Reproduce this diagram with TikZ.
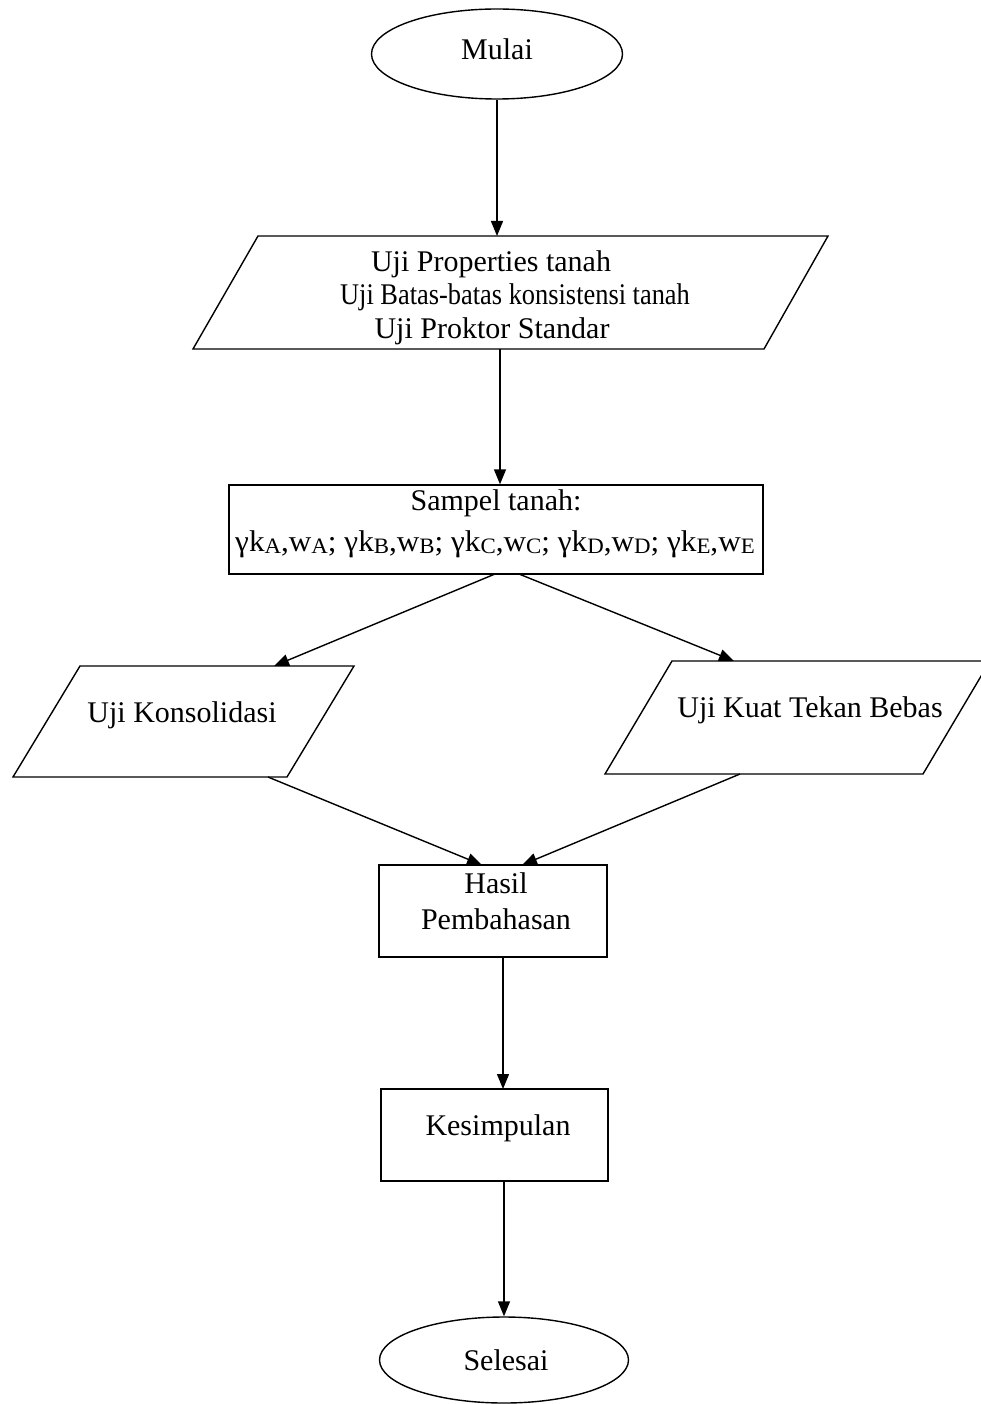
\documentclass[tikz,border=0pt]{standalone}
\usepackage{fontspec}
\setmainfont{Liberation Serif}
\usetikzlibrary{shapes.geometric,arrows.meta}
\newcommand{\sbx}[1]{\raisebox{-2.5pt}{\fontsize{22}{22}\selectfont #1}}
\begin{document}
\begin{tikzpicture}[x=1pt,y=-1pt,
  lw/.style={line width=1.4pt},
  arr/.style={line width=1.4pt,-{Triangle[length=15pt,width=12pt]}},
  term/.style={ellipse,draw,line width=1.4pt,inner sep=0pt},
  boxnode/.style={rectangle,draw,line width=1.4pt,inner sep=0pt},
  lbl/.style={anchor=base,inner sep=0pt,font=\fontsize{30}{34}\selectfont},
]
\fill[white] (0,0) rectangle (980,1404);
\useasboundingbox (0,0) rectangle (980,1404);

% terminals
\node[term,minimum width=251pt,minimum height=90pt] (mulai) at (497,54) {};
\node[lbl] (tmulai) at (497,60) {Mulai};
\node[term,minimum width=249pt,minimum height=86pt] (selesai) at (504,1360) {};
\node[lbl] (tselesai) at (506,1370) {Selesai};

% parallelogram 1
\coordinate (pa1) at (258,236);
\coordinate (pa2) at (828,236);
\coordinate (pa3) at (764,349);
\coordinate (pa4) at (193,349);
\draw[lw,line join=miter] (pa1) -- (pa2) -- (pa3) -- (pa4) -- cycle;
\node[lbl] (ta1) at (491,272) {Uji Properties tanah};
\node[lbl] (ta2) at (515,305) {\scalebox{0.88}[1]{Uji Batas-batas konsistensi tanah}};
\node[lbl] (ta3) at (492,338) {Uji Proktor Standar};
\coordinate (pain) at (497,236);
\coordinate (paout) at (500,349);

% sample box
\node[boxnode,minimum width=534pt,minimum height=89pt] (sampel) at (496,529.5) {};
\node[lbl] (tsa) at (496,510) {Sampel tanah:};
\node[lbl] (tsb) at (495,551) {\scalebox{1.04}[1]{γk\sbx{A},w\sbx{A}; γk\sbx{B},w\sbx{B}; γk\sbx{C},w\sbx{C}; γk\sbx{D},w\sbx{D}; γk\sbx{E},w\sbx{E}}};
\coordinate (sout1) at (495,574);
\coordinate (sout2) at (519,574);

% Uji Konsolidasi
\coordinate (kb1) at (80,666);
\coordinate (kb2) at (354,666);
\coordinate (kb3) at (287,777);
\coordinate (kb4) at (13,777);
\draw[lw,line join=miter] (kb1) -- (kb2) -- (kb3) -- (kb4) -- cycle;
\node[lbl] (tkon) at (182,722) {Uji Konsolidasi};
\coordinate (kin) at (274,666);
\coordinate (kout) at (268,777);

% Uji Kuat Tekan Bebas
\coordinate (qb1) at (672,661);
\coordinate (qb2) at (990,661);
\coordinate (qb3) at (923,774);
\coordinate (qb4) at (605,774);
\draw[lw,line join=miter] (qb1) -- (qb2) -- (qb3) -- (qb4) -- cycle;
\node[lbl] (tkuat) at (810,717) {Uji Kuat Tekan Bebas};
\coordinate (qin) at (734,661);
\coordinate (qout) at (740,774);

% Hasil
\node[boxnode,minimum width=228pt,minimum height=92pt] (hasil) at (493,911) {};
\node[lbl] (tha) at (496,893) {Hasil};
\node[lbl] (thb) at (496,929) {Pembahasan};
\coordinate (hin1) at (482,865);
\coordinate (hin2) at (522,865);
\coordinate (hout) at (503,957);

% Kesimpulan
\node[boxnode,minimum width=227pt,minimum height=92pt] (kes) at (494.5,1135) {};
\node[lbl] (tkes) at (498,1135) {Kesimpulan};
\coordinate (kesin) at (503,1089);
\coordinate (kesout) at (504,1181);

% connectors
\draw[arr] (mulai.south) -- (pain);
\draw[arr] (paout) -- (paout |- sampel.north);
\draw[arr] (sout1) -- (kin);
\draw[arr] (sout2) -- (qin);
\draw[arr] (kout) -- (hin1);
\draw[arr] (qout) -- (hin2);
\draw[arr] (hout) -- (kesin);
\draw[arr] (kesout) -- (selesai.north);
\end{tikzpicture}
\end{document}
